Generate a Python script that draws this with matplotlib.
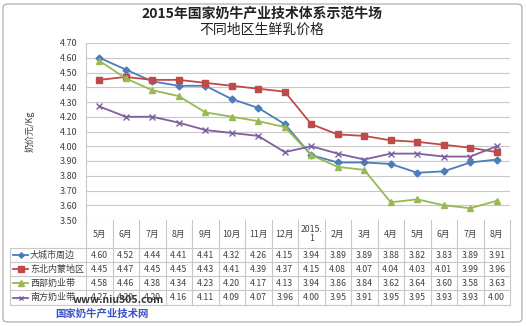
import matplotlib.pyplot as plt
import matplotlib.transforms as mtransforms
from matplotlib.patches import FancyBboxPatch
from matplotlib.lines import Line2D

plt.rcParams['font.family'] = ['Noto Sans CJK SC', 'DejaVu Sans']

MONTHS = ["5月", "6月", "7月", "8月", "9月", "10月", "11月", "12月", "2015.\n1",
          "2月", "3月", "4月", "5月", "6月", "7月", "8月"]
SERIES_NAMES = ["大城市周边", "东北内蒙地区", "西部奶业带", "南方奶业带"]
CITY = [4.60, 4.52, 4.44, 4.41, 4.41, 4.32, 4.26, 4.15, 3.94, 3.89, 3.89, 3.88, 3.82, 3.83, 3.89, 3.91]
NORTHEAST = [4.45, 4.47, 4.45, 4.45, 4.43, 4.41, 4.39, 4.37, 4.15, 4.08, 4.07, 4.04, 4.03, 4.01, 3.99, 3.96]
WEST = [4.58, 4.46, 4.38, 4.34, 4.23, 4.20, 4.17, 4.13, 3.94, 3.86, 3.84, 3.62, 3.64, 3.60, 3.58, 3.63]
SOUTH = [4.27, 4.20, 4.20, 4.16, 4.11, 4.09, 4.07, 3.96, 4.00, 3.95, 3.91, 3.95, 3.95, 3.93, 3.93, 4.00]
Y_TICKS = [3.50, 3.60, 3.70, 3.80, 3.90, 4.00, 4.10, 4.20, 4.30, 4.40, 4.50, 4.60, 4.70]

W, H = 526, 326
COLORS = ["#4A7EBB", "#BE4B48", "#98B954", "#7D60A0"]
MARKERS = [("D", 3.5), ("s", 5), ("^", 5), ("x", 4)]
GRID = "#C8C8C8"

fig = plt.figure(figsize=(W / 100, H / 100), dpi=100)
fig.patches.append(FancyBboxPatch((3 / W, 4 / H), 519 / W, 318 / H,
                                  boxstyle="round,pad=0,rounding_size=0.01",
                                  transform=fig.transFigure, fc="white",
                                  ec="#A6A6A6", lw=0.8, zorder=-5))

ax = fig.add_axes([86 / W, 1 - 220 / H, 424 / W, (220 - 43) / H])
ax.set_facecolor("none")
data = [CITY, NORTHEAST, WEST, SOUTH]
x = list(range(len(MONTHS)))
for vals, color, (m, ms) in zip(data, COLORS, MARKERS):
    ax.plot(x, vals, color=color, lw=1.3, marker=m, ms=ms, mec=color, mfc=color, mew=1, zorder=3)

ax.set_xlim(-0.5, len(MONTHS) - 0.5)
ax.set_ylim(3.5, 4.7)
ax.set_yticks(Y_TICKS)
ax.set_yticklabels([f"{v:.2f}" for v in Y_TICKS], fontsize=6.5, color="#404040")
ax.set_xticks([])
ax.tick_params(axis="y", length=0, pad=6)
ax.grid(axis="y", color=GRID, lw=0.8)
for s in ["top", "right", "bottom"]:
    ax.spines[s].set_visible(False)
ax.spines["left"].set_color(GRID)
ax.set_ylabel("奶价元/Kg", fontsize=6.5, labelpad=18, color="#404040")

fig.text(262 / W, 1 - 14 / H, "2015年国家奶牛产业技术体系示范牛场", ha="center", va="center",
         fontsize=10, fontweight="bold", color="#222222")
fig.text(262 / W, 1 - 30 / H, "不同地区生鲜乳价格", ha="center", va="center",
         fontsize=10, color="#222222")

# data table under the axis
tr = mtransforms.blended_transform_factory(ax.transData, fig.transFigure)


def fy(ypix):
    return 1 - ypix / H


def px_to_x(xpix):
    return (xpix - 86) / 26.5 - 0.5


n = len(MONTHS)
row_edges = [248, 262, 276, 290, 305]
x_left = px_to_x(10)
for i in range(n + 1):
    ax.add_line(Line2D([i - 0.5, i - 0.5], [fy(220), fy(305)], transform=tr, color=GRID,
                       lw=0.8, clip_on=False))
ax.add_line(Line2D([x_left, x_left], [fy(248), fy(305)], transform=tr, color=GRID, lw=0.8, clip_on=False))
for ye in row_edges:
    ax.add_line(Line2D([x_left, n - 0.5], [fy(ye), fy(ye)], transform=tr, color=GRID, lw=0.8, clip_on=False))

for i, lab in enumerate(MONTHS):
    ax.text(i, fy(234), lab, transform=tr, ha="center", va="center", fontsize=6.3,
            color="#404040", linespacing=1.1)

for r, (name, vals, color, (m, ms)) in enumerate(zip(SERIES_NAMES, data, COLORS, MARKERS)):
    yc = fy((row_edges[r] + row_edges[r + 1]) / 2)
    ax.add_line(Line2D([px_to_x(13), px_to_x(28)], [yc, yc], transform=tr, color=color, lw=1.3,
                       clip_on=False))
    ax.plot([px_to_x(20.5)], [yc], transform=tr, marker=m, ms=ms * 0.8, color=color, clip_on=False)
    ax.text(px_to_x(30), yc, name, transform=tr, ha="left", va="center", fontsize=6.5, color="#404040")
    for i, v in enumerate(vals):
        ax.text(i, yc, f"{v:.2f}", transform=tr, ha="center", va="center", fontsize=6.3, color="#404040")

# watermark text
fig.text(118 / W, 1 - 300 / H, "www.niu305.com", ha="center", va="center", fontsize=7.5,
         fontweight="bold", color="#333333")
fig.text(102 / W, 1 - 314 / H, "国家奶牛产业技术网", ha="center", va="center", fontsize=7.5,
         fontweight="bold", color="#3A54C8")

fig.savefig("out.png", dpi=100)
